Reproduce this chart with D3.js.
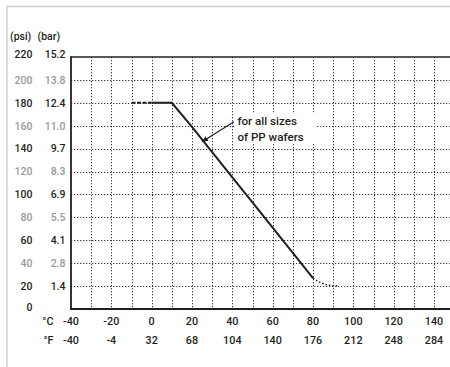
<!DOCTYPE html>
<html>
<head>
<meta charset="utf-8">
<script src="https://cdn.jsdelivr.net/npm/d3@7"></script>
<style>
  html, body { margin: 0; padding: 0; background: #fff; }
  svg { display: block; }
  text { font-family: Roboto, "DejaVu Sans", sans-serif; font-weight: 500; }
</style>
</head>
<body>
<svg id="chart" width="450" height="367"></svg>
<script>
// ---- data ----
const psiTicks = [0, 20, 40, 60, 80, 100, 120, 140, 160, 180, 200, 220];
const barLabels = ["", "1.4", "2.8", "4.1", "5.5", "6.9", "8.3", "9.7", "11.0", "12.4", "13.8", "15.2"];
const celsiusTicks = [-40, -20, 0, 20, 40, 60, 80, 100, 120, 140];
const fahrenheitLabels = ["-40", "-4", "32", "68", "104", "140", "176", "212", "248", "284"];
const gridCelsius = [-30, -20, -10, 0, 10, 20, 30, 40, 50, 60, 70, 80, 90, 100, 110, 120, 130, 140, 150];

const flatTemps = [-10, 0];
const flatPsi = [180, 180];
const solidTemps = [0, 10, 20, 30, 40, 50, 60, 70, 80];
const solidPsi = [180, 180, 159, 137, 115, 93, 71, 49, 27];
const tailTemps = [80, 84, 88, 92];
const tailPsi = [27, 22.8, 20.8, 20.2];

const annotationLines = ["for all sizes", "of PP wafers"];
const annotationAt = [42.5, 161];   // temp, psi of text start
const arrowFrom = [40.8, 163.5];
const arrowTo = [25, 146];

// ---- layout ----
const svg = d3.select("#chart");
const mLeft = 71, mRight = 434, mTop = 57, mBottom = 309;
const x = d3.scaleLinear().domain([-40, 140]).range([mLeft, mRight]);
const y = d3.scaleLinear().domain([0, 220]).range([mBottom, mTop]);
const dark = "#231f20", gray = "#9a9a9a";

// page frame
svg.append("path").attr("d", "M7,367 V6.5 H450")
  .attr("fill", "none").attr("stroke", "#d0d0d0").attr("stroke-width", 1.5);

// grid
const grid = svg.append("g");
grid.selectAll("line.h").data(psiTicks.filter(d => d > 0 && d < 220)).join("line")
  .attr("x1", mLeft).attr("x2", 450)
  .attr("y1", d => Math.round(y(d)) + 0.5).attr("y2", d => Math.round(y(d)) + 0.5)
  .attr("stroke", "#3a3a3a").attr("stroke-width", 1).attr("stroke-dasharray", "1.3,1.7");
grid.selectAll("line.v").data(gridCelsius).join("line")
  .attr("x1", d => Math.round(x(d)) + 0.5).attr("x2", d => Math.round(x(d)) + 0.5)
  .attr("y1", mTop).attr("y2", mBottom)
  .attr("stroke", "#3a3a3a").attr("stroke-width", 1).attr("stroke-dasharray", "1.3,1.7");

// axes frame
svg.append("line").attr("x1", mLeft).attr("x2", 450).attr("y1", mTop).attr("y2", mTop)
  .attr("stroke", dark).attr("stroke-width", 1.6);
svg.append("line").attr("x1", mLeft).attr("x2", mLeft).attr("y1", mTop - 0.8).attr("y2", mBottom + 1)
  .attr("stroke", dark).attr("stroke-width", 1.8);
svg.append("line").attr("x1", mLeft - 1).attr("x2", 450).attr("y1", mBottom).attr("y2", mBottom)
  .attr("stroke", dark).attr("stroke-width", 2.2);

// y labels
const fs = 10.5;
const yl = svg.append("g").attr("font-size", fs);
yl.selectAll("text.psi").data(psiTicks).join("text")
  .attr("x", 32.5).attr("y", d => (d === 220 ? y(d) - 3 : d === 0 ? y(d) - 1.5 : y(d)))
  .attr("dy", "0.36em").attr("text-anchor", "end")
  .attr("fill", (d, i) => (i > 0 && i % 2 === 0 ? gray : dark))
  .text(d => d);
yl.selectAll("text.bar").data(psiTicks).join("text")
  .attr("x", 65.5).attr("y", d => (d === 220 ? y(d) - 3 : y(d)))
  .attr("dy", "0.36em").attr("text-anchor", "end")
  .attr("fill", (d, i) => (i > 0 && i % 2 === 0 ? gray : dark))
  .text((d, i) => barLabels[i]);
yl.append("text").attr("x", 10).attr("y", 40).attr("fill", dark).text("(psi)");
yl.append("text").attr("x", 37.5).attr("y", 40).attr("fill", dark).text("(bar)");

// x labels
const xl = svg.append("g").attr("font-size", 10.8).attr("fill", dark);
xl.selectAll("text.c").data(celsiusTicks).join("text")
  .attr("x", d => x(d)).attr("y", 324.5).attr("text-anchor", "middle").text(d => d);
xl.selectAll("text.f").data(celsiusTicks).join("text")
  .attr("x", d => x(d)).attr("y", 343.5).attr("text-anchor", "middle").text((d, i) => fahrenheitLabels[i]);
xl.append("text").attr("x", 53.5).attr("y", 324.5).attr("text-anchor", "end").text("°C");
xl.append("text").attr("x", 53.5).attr("y", 343.5).attr("text-anchor", "end").text("°F");

// curve
const line = d3.line().x(d => x(d[0])).y(d => y(d[1]));
svg.append("path").datum(d3.zip(flatTemps, flatPsi)).attr("d", line)
  .attr("fill", "none").attr("stroke", dark).attr("stroke-width", 2).attr("stroke-dasharray", "4,1.5");
svg.append("path").datum(d3.zip(solidTemps, solidPsi)).attr("d", line)
  .attr("fill", "none").attr("stroke", dark).attr("stroke-width", 2).attr("stroke-linejoin", "miter");
svg.append("path").datum(d3.zip(tailTemps, tailPsi)).attr("d", d3.line().curve(d3.curveMonotoneX).x(d => x(d[0])).y(d => y(d[1])))
  .attr("fill", "none").attr("stroke", dark).attr("stroke-width", 1.6).attr("stroke-dasharray", "1.5,2");

// annotation
const ax = x(annotationAt[0]), ay = y(annotationAt[1]);
svg.append("rect").attr("x", ax - 3).attr("y", ay - 12).attr("width", 82).attr("height", 31).attr("fill", "#fff");
const ann = svg.append("g").attr("font-size", 11.6).attr("fill", dark);
ann.selectAll("text").data(annotationLines).join("text")
  .attr("x", ax).attr("y", (d, i) => ay + i * 16.3).text(d => d);

svg.append("defs").append("marker").attr("id", "ah")
  .attr("viewBox", "0 0 10 10").attr("refX", 9).attr("refY", 5)
  .attr("markerWidth", 6).attr("markerHeight", 6).attr("orient", "auto")
  .append("path").attr("d", "M0,1 L10,5 L0,9 Z").attr("fill", dark);
svg.append("line")
  .attr("x1", x(arrowFrom[0])).attr("y1", y(arrowFrom[1]))
  .attr("x2", x(arrowTo[0])).attr("y2", y(arrowTo[1]))
  .attr("stroke", dark).attr("stroke-width", 1.1).attr("marker-end", "url(#ah)");
</script>
</body>
</html>
